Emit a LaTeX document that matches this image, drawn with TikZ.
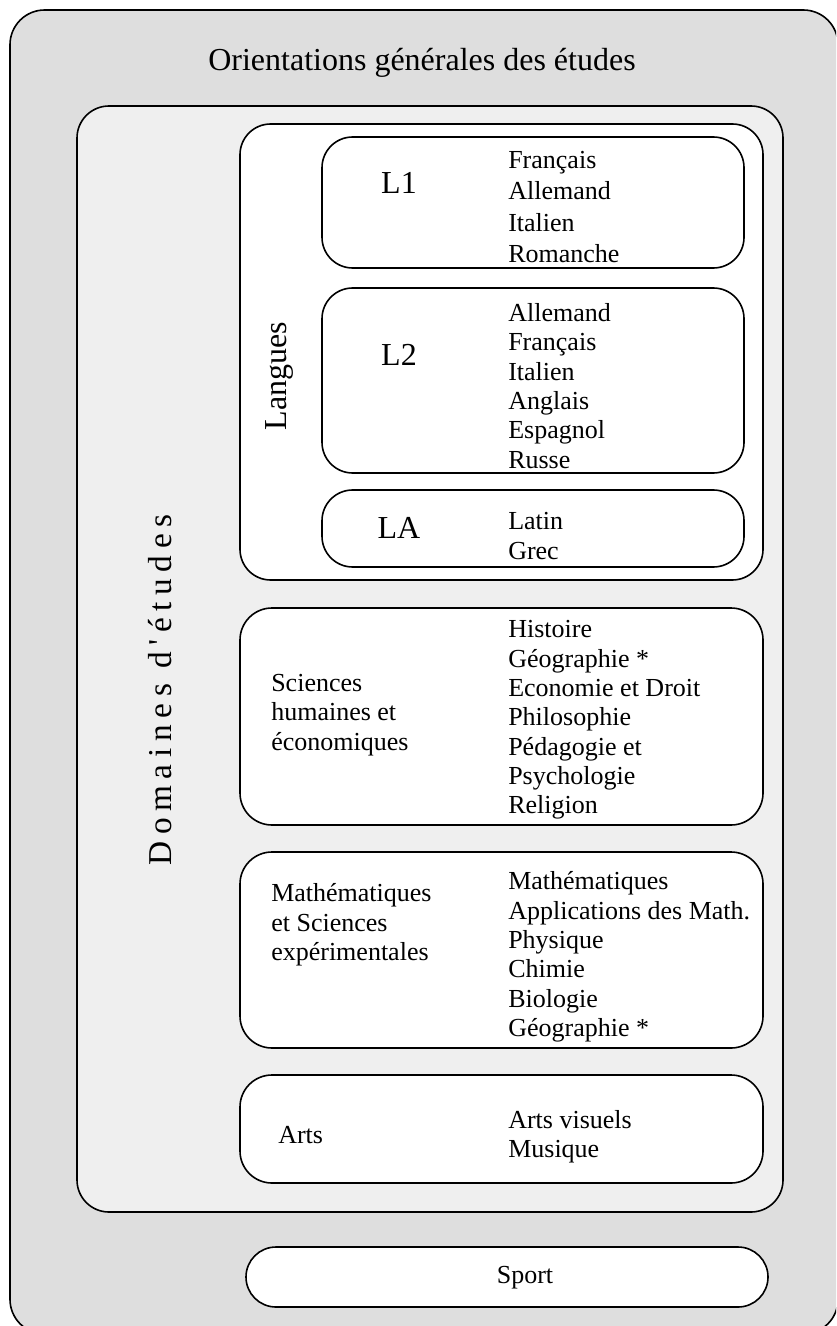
\documentclass[tikz,border=0pt]{standalone}
\usepackage{fontspec}
\setmainfont{Liberation Serif}
\newfontfamily\domfont[LetterSpace=20,Ligatures=TeXOff]{Liberation Serif}
\definecolor{outergray}{HTML}{DEDEDE}
\definecolor{innergray}{HTML}{EFEFEF}
\begin{document}
\begin{tikzpicture}[x=0.75pt,y=-0.75pt,
  frame/.style={draw=black, line width=1.2pt},
  txt/.style={font=\fontsize{19.5}{22}\selectfont, align=left, inner sep=0pt, anchor=west},
  txtl/.style={font=\fontsize{19.5}{23.4}\selectfont, align=left, inner sep=0pt, anchor=west},
  big/.style={font=\fontsize{24}{28}\selectfont, inner sep=0pt},
]
\useasboundingbox (0,0) rectangle (836,1326);
\begin{scope}
\clip (0,0) rectangle (836,1326);
\draw[frame, fill=outergray, rounded corners=26pt] (10,10) rectangle (838,1334);
\end{scope}
\node[big] (title) at (422,63) {Orientations générales des études};

% Domaines d'etudes
\draw[frame, fill=innergray, rounded corners=24pt] (77,106) rectangle (783,1212);
\node[inner sep=0pt, rotate=90, font=\domfont\fontsize{25}{28}\selectfont] (dom) at (160,690) {Domaines d'études};

% Langues
\draw[frame, fill=white, rounded corners=23pt] (240,124) rectangle (763,580);
\node[big, rotate=90] (lang) at (279,376) {Langues};

\draw[frame, fill=white, rounded corners=23pt] (322,137) rectangle (744,268);
\node[big] (l1) at (399,183) {L1};
\node[txtl] (l1list) at (508,207) {Français\\Allemand\\Italien\\Romanche};

\draw[frame, fill=white, rounded corners=23pt] (322,288) rectangle (744,473);
\node[big] (l2) at (399,355) {L2};
\node[txt] (l2list) at (508,386) {Allemand\\Français\\Italien\\Anglais\\Espagnol\\Russe};

\draw[frame, fill=white, rounded corners=23pt] (322,490) rectangle (744,567);
\node[big] (la) at (399,528) {LA};
\node[txt] (lalist) at (508,536) {Latin\\Grec};

% Sciences humaines
\draw[frame, fill=white, rounded corners=24pt] (240,608) rectangle (763,825);
\node[txt] (shlab) at (271,715) {Sciences\\humaines et\\économiques};
\node[txt] (shlist) at (508,720) {Histoire\\Géographie *\\Economie et Droit\\Philosophie\\Pédagogie et\\Psychologie\\Religion};

% Maths
\draw[frame, fill=white, rounded corners=24pt] (240,852) rectangle (763,1048);
\node[txt] (mslab) at (271,925) {Mathématiques\\et Sciences\\expérimentales};
\node[txt] (mslist) at (508,957) {Mathématiques\\Applications des Math.\\Physique\\Chimie\\Biologie\\Géographie *};

% Arts
\draw[frame, fill=white, rounded corners=24pt] (240,1075) rectangle (763,1183);
\node[txt] (artlab) at (278,1135) {Arts};
\node[txt] (artlist) at (508,1137) {Arts visuels\\Musique};

% Sport
\draw[frame, fill=white, rounded corners=22.5pt] (246,1247) rectangle (768,1307);
\node[txt, anchor=center] (sport) at (525,1278) {Sport};
\end{tikzpicture}
\end{document}
